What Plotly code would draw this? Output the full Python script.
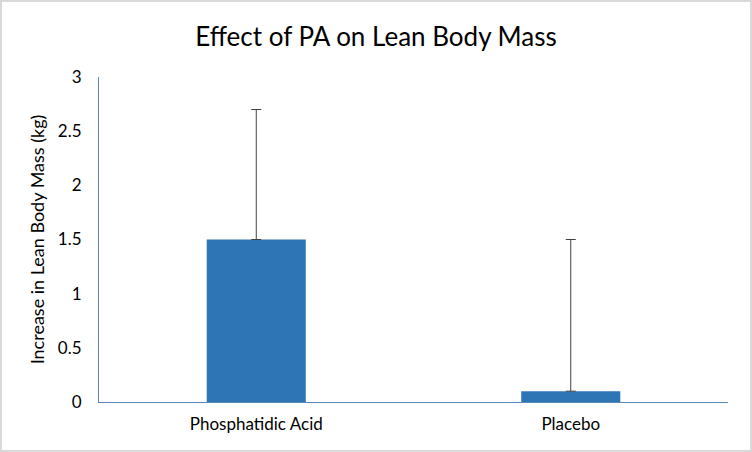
import plotly.graph_objects as go

# data
groups = ["Phosphatidic Acid", "Placebo"]
lbm_gain = [1.5, 0.1]
err_up = [1.2, 1.4]
y_ticks = [0, 0.5, 1, 1.5, 2, 2.5, 3]

W, H = 752, 452
ml, mr, mt, mb = 99, 24, 77, 50
pw, ph = W - ml - mr, H - mt - mb

bars = go.Bar(
    x=groups, y=lbm_gain,
    marker=dict(color="#2e75b6", line=dict(width=0)),
    width=0.315,
    error_y=dict(type="data", array=err_up, symmetric=False,
                 arrayminus=[0, 0], color="#404040", thickness=1, width=5),
)

fig = go.Figure(data=[bars])
fig.update_layout(
    width=W, height=H,
    margin=dict(l=ml, r=mr, t=mt, b=mb),
    paper_bgcolor="white", plot_bgcolor="white",
    font=dict(family="Lato, Carlito, sans-serif", color="#000000", size=17),
    showlegend=False,
    title=dict(text="Effect of PA on Lean Body Mass", x=0.5, xanchor="center",
               y=1 - 37 / H, yanchor="middle",
               font=dict(size=26, color="#000000")),
    xaxis=dict(showline=True, linecolor="#5b87b8", linewidth=1,
               ticks="", showgrid=False, tickfont=dict(size=17),
               ticklabelstandoff=7),
    yaxis=dict(range=[0, 3], tickvals=y_ticks,
               ticktext=[f"{v:g}" for v in y_ticks],
               showline=True, linecolor="#5b87b8", linewidth=1,
               ticks="", showgrid=False, zeroline=False,
               tickfont=dict(size=17), ticklabelstandoff=13,
               title=dict(text="Increase in Lean Body Mass (kg)",
                          font=dict(size=18), standoff=8)),
)

# light frame round the whole chart, like the original export
fig.add_shape(type="rect", xref="paper", yref="paper",
              x0=-(ml - 1) / pw, x1=1 + (mr - 1) / pw,
              y0=-(mb - 1) / ph, y1=1 + (mt - 1) / ph,
              line=dict(color="#d9d9d9", width=2), layer="below")

# the page body has a default 8px margin; drop it so the chart sits at 0,0
fig.write_html("out.html", config={"displayModeBar": False},
               post_script="document.body.style.margin='0';")
